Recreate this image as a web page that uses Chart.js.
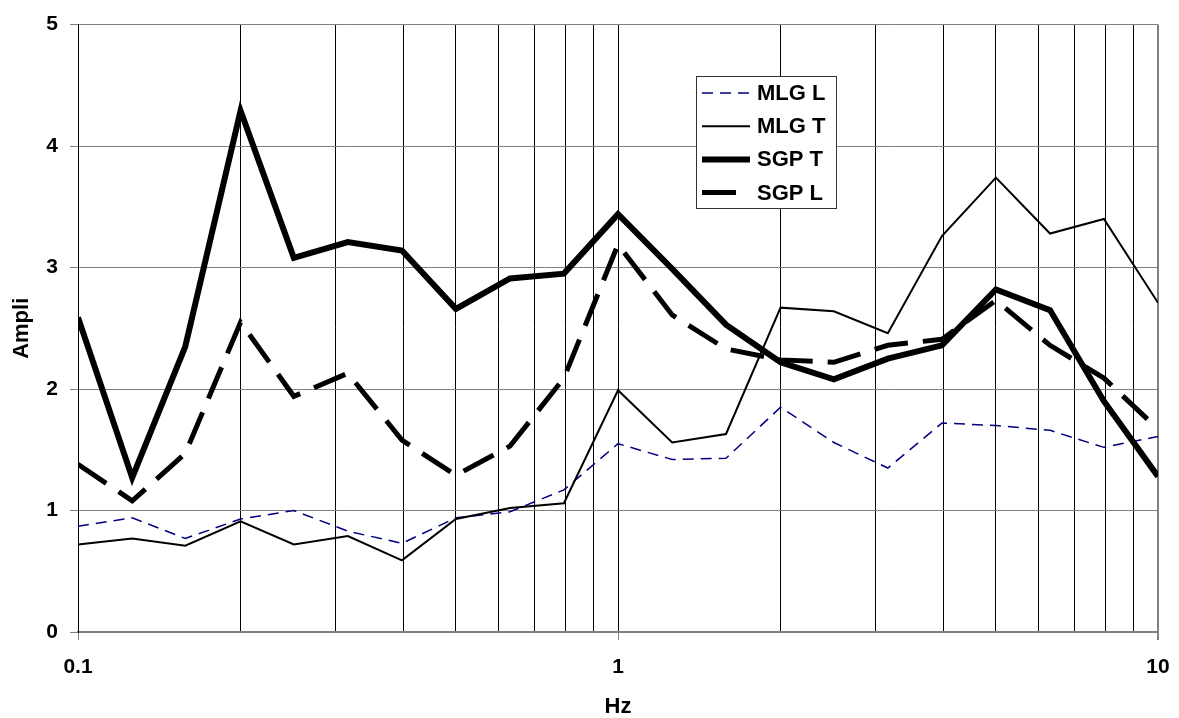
<!DOCTYPE html>
<html>
<head>
<meta charset="utf-8">
<script src="https://cdn.jsdelivr.net/npm/chart.js@4.4.1/dist/chart.umd.min.js"></script>
<style>
  html, body { margin: 0; padding: 0; background: #fff; }
  #wrap { width: 1179px; height: 718px; }
</style>
</head>
<body>
<div id="wrap"><canvas id="ampChart" width="1179" height="718"></canvas></div>
<script>
// Frequencies (1/3 octave steps), Hz
const freqHz = [0.1, 0.126, 0.158, 0.2, 0.251, 0.316, 0.398, 0.501, 0.631, 0.794,
  1, 1.26, 1.585, 2, 2.51, 3.16, 3.98, 5.01, 6.31, 7.94, 10];

// Amplification values
const mlgL = [0.87, 0.94, 0.77, 0.93, 1.00, 0.83, 0.73, 0.94, 0.99, 1.17,
  1.55, 1.42, 1.43, 1.85, 1.56, 1.35, 1.72, 1.70, 1.66, 1.52, 1.61];
const mlgT = [0.72, 0.77, 0.71, 0.91, 0.72, 0.79, 0.59, 0.93, 1.02, 1.06,
  1.99, 1.56, 1.63, 2.67, 2.64, 2.46, 3.26, 3.74, 3.28, 3.40, 2.71];
const sgpT = [2.59, 1.27, 2.35, 4.29, 3.08, 3.21, 3.14, 2.66, 2.91, 2.95,
  3.44, 2.99, 2.53, 2.22, 2.08, 2.25, 2.36, 2.82, 2.65, 1.90, 1.28];
const sgpL = [1.38, 1.08, 1.47, 2.55, 1.94, 2.13, 1.58, 1.29, 1.53, 2.09,
  3.19, 2.61, 2.33, 2.24, 2.22, 2.36, 2.41, 2.73, 2.36, 2.09, 1.67];

const seriesNames = ['MLG L', 'MLG T', 'SGP T', 'SGP L'];
const xTickLabels = ['0.1', '1', '10'];
const yTickLabels = ['0', '1', '2', '3', '4', '5'];

const FONT = "'Liberation Sans', Arial, sans-serif";
Chart.defaults.font.family = FONT;
Chart.defaults.color = '#000';

function toPoints(values) {
  return values.map((v, i) => ({ x: freqHz[i], y: v }));
}

function isMajor(value) {
  return xTickLabels.some((l) => Math.abs(parseFloat(l) - value) < 1e-9);
}

// legend box drawn inside the plot
const boxLegend = {
  id: 'boxLegend',
  afterDraw(chart) {
    const ctx = chart.ctx;
    const bx = 696, by = 76, bw = 140, bh = 132;
    ctx.save();
    ctx.fillStyle = '#fff';
    ctx.fillRect(bx, by, bw, bh);
    ctx.strokeStyle = '#333';
    ctx.lineWidth = 1;
    ctx.strokeRect(bx + 0.5, by + 0.5, bw, bh);
    chart.data.datasets.forEach((ds, i) => {
      const y = 93 + i * 33.2;
      ctx.beginPath();
      ctx.setLineDash(ds.borderDash || []);
      ctx.lineWidth = ds.borderWidth;
      ctx.strokeStyle = ds.borderColor;
      ctx.lineCap = 'butt';
      ctx.moveTo(702, y);
      ctx.lineTo(750, y);
      ctx.stroke();
      ctx.setLineDash([]);
      ctx.fillStyle = '#000';
      ctx.font = 'bold 22px ' + FONT;
      ctx.textAlign = 'left';
      ctx.textBaseline = 'middle';
      ctx.fillText(ds.label, 757, y + 1);
    });
    ctx.restore();
  },
};

const ctx = document.getElementById('ampChart').getContext('2d');
const chart = new Chart(ctx, {
  type: 'line',
  data: {
    datasets: [
      {
        label: seriesNames[0],
        data: toPoints(mlgL),
        borderColor: '#000080',
        borderWidth: 1.5,
        borderDash: [11, 7],
        pointRadius: 0,
        tension: 0,
        order: 4,
      },
      {
        label: seriesNames[1],
        data: toPoints(mlgT),
        borderColor: '#000',
        borderWidth: 2,
        pointRadius: 0,
        tension: 0,
        order: 3,
      },
      {
        label: seriesNames[2],
        data: toPoints(sgpT),
        borderColor: '#000',
        borderWidth: 6,
        pointRadius: 0,
        tension: 0,
        order: 1,
      },
      {
        label: seriesNames[3],
        data: toPoints(sgpL),
        borderColor: '#000',
        borderWidth: 5,
        borderDash: [34, 15],
        pointRadius: 0,
        tension: 0,
        order: 2,
      },
    ],
  },
  options: {
    responsive: false,
    animation: false,
    devicePixelRatio: 1,
    layout: { padding: { top: 21, right: 21, bottom: 0, left: 0 } },
    plugins: {
      legend: { display: false },
      tooltip: { enabled: false },
    },
    scales: {
      x: {
        type: 'logarithmic',
        min: 0.1,
        max: 10,
        afterBuildTicks(scale) {
          const ticks = [];
          [0.1, 1].forEach((d) => {
            for (let k = 1; k <= 9; k++) ticks.push({ value: k * d });
          });
          ticks.push({ value: 10 });
          scale.ticks = ticks;
        },
        afterFit(scale) {
          scale.height = 86;
          // let the "10" label run into the right margin
          scale.paddingLeft = 0;
          scale.paddingRight = 0;
        },
        ticks: {
          autoSkip: false,
          maxRotation: 0,
          padding: 15,
          font: { size: 21, weight: 'bold' },
          callback(value) {
            const lbl = xTickLabels.find((l) => Math.abs(parseFloat(l) - value) < 1e-9);
            return lbl || '';
          },
        },
        grid: {
          color: (c) => (c.tick && Math.abs(c.tick.value - 10) < 1e-9 ? '#808080' : '#000'),
          lineWidth: (c) => (c.tick && Math.abs(c.tick.value - 10) < 1e-9 ? 2 : 1),
          tickLength: 8,
          tickColor: (c) => (c.tick && isMajor(c.tick.value) ? '#808080' : 'rgba(0,0,0,0)'),
        },
        border: { color: '#808080', width: 2 },
        title: {
          display: true,
          text: 'Hz',
          font: { size: 22, weight: 'bold', lineHeight: 1 },
          padding: { top: 0, bottom: 0 },
        },
      },
      y: {
        min: 0,
        max: 5,
        afterFit(scale) {
          scale.width = 78;
        },
        ticks: {
          stepSize: 1,
          padding: 12,
          font: { size: 21, weight: 'bold' },
          callback(value) {
            return yTickLabels[value] !== undefined ? yTickLabels[value] : '';
          },
        },
        grid: {
          color: '#808080',
          lineWidth: 1,
          tickLength: 8,
          tickColor: '#808080',
        },
        border: { color: '#000', width: 1 },
        title: {
          display: true,
          text: 'Ampli',
          font: { size: 22, weight: 'bold' },
          padding: { top: 9, bottom: 0 },
        },
      },
    },
  },
  plugins: [boxLegend],
});
</script>
</body>
</html>
